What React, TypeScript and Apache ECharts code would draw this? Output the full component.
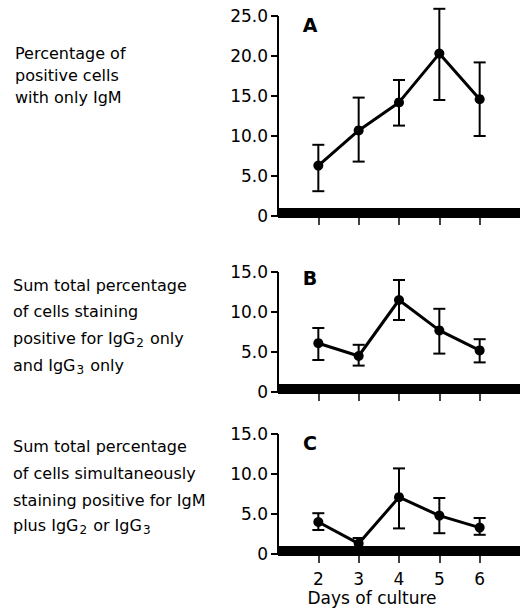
import React, { useEffect, useRef } from "react";
import * as echarts from "echarts";

const days = [2, 3, 4, 5, 6];
const xTicks = [2, 3, 4, 5, 6];

const aMean = [6.3, 10.7, 14.2, 20.3, 14.6];
const aUpper = [8.9, 14.8, 17.0, 25.9, 19.2];
const aLower = [3.1, 6.8, 11.3, 14.5, 10.0];

const bMean = [6.1, 4.5, 11.5, 7.7, 5.2];
const bUpper = [8.0, 5.9, 14.0, 10.4, 6.6];
const bLower = [4.0, 3.3, 9.0, 4.8, 3.7];

const cMean = [4.0, 1.3, 7.1, 4.8, 3.3];
const cUpper = [5.1, 2.0, 10.7, 7.0, 4.5];
const cLower = [3.0, 0.6, 3.2, 2.6, 2.4];

const yMaxA = 25;
const yMaxB = 15;
const yMaxC = 15;

// Row labels: each line is a list of [text, isSubscript] segments
const labelA: [string, boolean][][] = [
  [["Percentage of", false]],
  [["positive cells", false]],
  [["with only IgM", false]],
];
const labelB: [string, boolean][][] = [
  [["Sum total percentage", false]],
  [["of cells staining", false]],
  [["positive for IgG", false], ["2", true], [" only", false]],
  [["and IgG", false], ["3", true], [" only", false]],
];
const labelC: [string, boolean][][] = [
  [["Sum total percentage", false]],
  [["of cells simultaneously", false]],
  [["staining positive for IgM", false]],
  [["plus IgG", false], ["2", true], [" or IgG", false], ["3", true]],
];

const FONT = "DejaVu Sans";
const MAIN_SIZE = 16;
const SUB_SIZE = 12;

export default function App() {
  const ref = useRef<HTMLDivElement>(null);

  useEffect(() => {
    if (!ref.current) return;
    const chart = echarts.init(ref.current, null, { renderer: "svg" });

    const ctx = document.createElement("canvas").getContext("2d")!;
    const measure = (t: string, size: number) => {
      ctx.font = `${size}px "${FONT}"`;
      return ctx.measureText(t).width;
    };

    const grids = [
      { left: 278, top: 16, width: 242, height: 200 },
      { left: 278, top: 272, width: 242, height: 120 },
      { left: 278, top: 434, width: 242, height: 120 },
    ];

    const xAxes = grids.map((_, i) => ({
      type: "value",
      gridIndex: i,
      min: 1,
      max: 7,
      interval: 1,
      offset: -3,
      splitLine: { show: false },
      axisLine: { show: true, onZero: false, lineStyle: { color: "#000", width: 10, cap: "butt" } },
      axisTick: { show: true, customValues: xTicks, length: 12, lineStyle: { color: "#000", width: 1.5 } },
      axisLabel: {
        show: i === 2,
        customValues: xTicks,
        margin: 19,
        color: "#000",
        fontFamily: FONT,
        fontSize: 17,
      },
    }));

    const maxes = [yMaxA, yMaxB, yMaxC];
    const yAxes = grids.map((_, i) => ({
      type: "value",
      gridIndex: i,
      min: 0,
      max: maxes[i],
      interval: 5,
      splitLine: { show: false },
      axisLine: { show: true, lineStyle: { color: "#000", width: 2, cap: "butt" } },
      axisTick: { show: true, length: 7, lineStyle: { color: "#000", width: 2 } },
      axisLabel: {
        margin: 10,
        color: "#000",
        fontFamily: FONT,
        fontSize: 17,
        formatter: (v: number) => (v === 0 ? "0" : v.toFixed(1)),
      },
    }));

    const errRender = (params: any, api: any) => {
      const x = api.value(0);
      const lo = api.value(1);
      const hi = api.value(2);
      const t = api.coord([x, hi]);
      const b = api.coord([x, lo]);
      const w = 6;
      const st = { stroke: "#000", lineWidth: 2 };
      return {
        type: "group",
        children: [
          { type: "line", shape: { x1: t[0], y1: t[1], x2: b[0], y2: b[1] }, style: st },
          { type: "line", shape: { x1: t[0] - w, y1: t[1], x2: t[0] + w, y2: t[1] }, style: st },
          { type: "line", shape: { x1: b[0] - w, y1: b[1], x2: b[0] + w, y2: b[1] }, style: st },
        ],
      };
    };

    const sets = [
      [aMean, aLower, aUpper],
      [bMean, bLower, bUpper],
      [cMean, cLower, cUpper],
    ];

    const series: any[] = [];
    sets.forEach(([mean, lower, upper], i) => {
      series.push({
        type: "custom",
        xAxisIndex: i,
        yAxisIndex: i,
        clip: false,
        renderItem: errRender,
        encode: { x: 0, y: [1, 2] },
        data: days.map((d, k) => [d, lower[k], upper[k]]),
        z: 3,
      });
      series.push({
        type: "line",
        xAxisIndex: i,
        yAxisIndex: i,
        data: days.map((d, k) => [d, mean[k]]),
        symbol: "circle",
        symbolSize: 10,
        clip: false,
        lineStyle: { color: "#000", width: 3 },
        itemStyle: { color: "#000" },
        z: 4,
      });
    });

    const txt = (text: string, x: number, y: number, extra: any = {}) => ({
      type: "text",
      x,
      y,
      style: {
        text,
        fill: "#000",
        fontFamily: FONT,
        fontSize: MAIN_SIZE,
        align: "left",
        verticalAlign: "middle",
        textAlign: "left",
        textVerticalAlign: "middle",
        ...extra,
      },
    });

    const graphic: any[] = [];
    const block = (lines: [string, boolean][][], x0: number, centers: number[]) => {
      lines.forEach((segs, li) => {
        let x = x0;
        const cy = centers[li];
        segs.forEach(([t, sub]) => {
          if (sub) {
            graphic.push(txt(t, x + 1, cy + 5, { fontSize: SUB_SIZE }));
            x += measure(t, SUB_SIZE) + 2;
          } else {
            graphic.push(txt(t, x, cy));
            x += measure(t, MAIN_SIZE);
          }
        });
      });
    };
    block(labelA, 15, [53, 75, 97]);
    block(labelB, 13, [285, 311, 338, 365]);
    block(labelC, 13, [446, 473, 500, 525]);

    const center = { align: "center", textAlign: "center" };
    graphic.push(txt("A", 310, 25, { fontSize: 19, fontWeight: "bold", ...center }));
    graphic.push(txt("B", 310, 278, { fontSize: 19, fontWeight: "bold", ...center }));
    graphic.push(txt("C", 310, 443, { fontSize: 19, fontWeight: "bold", ...center }));
    graphic.push(txt("Days of culture", 372, 598, { fontSize: 17, ...center }));

    chart.setOption({
      animation: false,
      backgroundColor: "#fff",
      grid: grids,
      xAxis: xAxes,
      yAxis: yAxes,
      series,
      graphic,
    });

    return () => chart.dispose();
  }, []);

  return (
    <div
      ref={ref}
      style={{ position: "fixed", left: 0, top: 0, width: 525, height: 608, background: "#fff" }}
    />
  );
}
